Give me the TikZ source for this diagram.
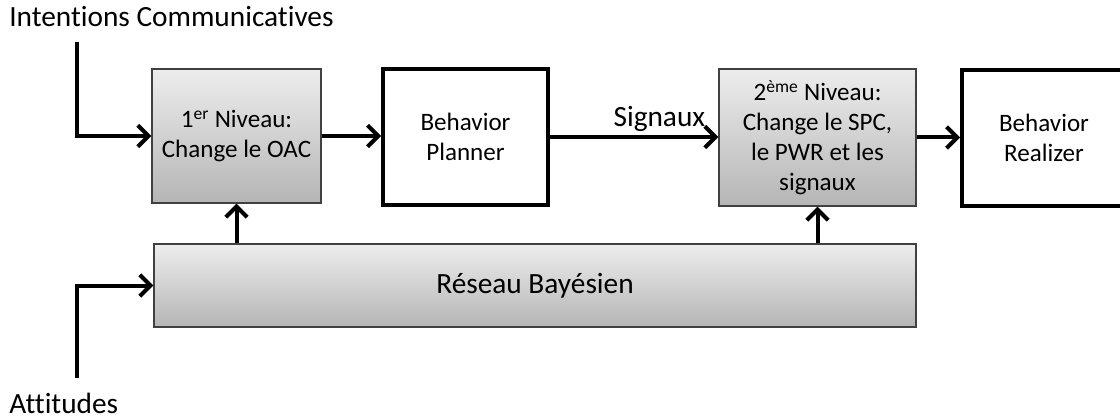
\documentclass[tikz,border=0pt]{standalone}
\usepackage{fontspec}
\setmainfont[Ligatures=NoCommon]{Carlito}
\usetikzlibrary{arrows.meta}

\tikzset{
  graybox/.style={draw=black!75, line width=1.1pt, top color=gray!14, bottom color=gray!58,
    inner sep=0pt, align=center, font=\fontsize{18.8}{22.5}\selectfont},
  whitebox/.style={draw=black, line width=3pt, fill=white,
    inner sep=0pt, align=center, font=\fontsize{18.8}{22.5}\selectfont},
  flow/.style={line width=3pt, -{Straight Barb[length=8pt,width=16pt,line width=3pt]}},
  lbl/.style={inner sep=0pt, font=\fontsize{22}{25}\selectfont}
}

\begin{document}
\begin{tikzpicture}[x=0.75pt, y=-0.75pt]
  \useasboundingbox (0,0) rectangle (1120,420);

  %% top row
  \node[graybox, minimum width=126.75pt, minimum height=100.5pt] (lvlone) at (236.5,136)
    {1\textsuperscript{er} Niveau:\\Change le OAC};
  \node[whitebox, minimum width=123.75pt, minimum height=102pt] (planner) at (465.5,137)
    {Behavior\\Planner};
  \node[graybox, minimum width=147.75pt, minimum height=102.75pt] (lvltwo) at (817.5,137.5)
    {2\textsuperscript{ème} Niveau:\\Change le SPC,\\le PWR et les\\signaux};
  \node[whitebox, minimum width=123pt, minimum height=102pt] (realizer) at (1044,138)
    {Behavior\\Realizer};

  %% bayesian network
  \node[graybox, minimum width=571.5pt, minimum height=62.25pt,
    font=\fontsize{22}{25}\selectfont] (bayes) at (535,285.5) {Réseau Bayésien};

  %% inputs
  \node[lbl, anchor=base west] (intentions) at (9,27) {Intentions Communicatives};
  \node[lbl, anchor=base west] (attitudes) at (9,413) {Attitudes};
  \coordinate (intentin) at (77,42);
  \coordinate (attin) at (77,378);

  %% arrows
  \draw[flow] (intentin) |- (lvlone.west);
  \draw[flow] (attin) |- (bayes.west);
  \draw[flow] (lvlone.east) -- (lvlone.east -| planner.west);
  \draw[flow] (planner.east) -- (planner.east -| lvltwo.west)
    node[lbl, pos=0.65, anchor=base, yshift=8pt] (signaux) {Signaux};
  \draw[flow] (lvltwo.east) -- (lvltwo.east -| realizer.west);
  \draw[flow] (bayes.north -| lvlone.south) -- (lvlone.south);
  \draw[flow] (bayes.north -| lvltwo.south) -- (lvltwo.south);

\end{tikzpicture}
\end{document}
